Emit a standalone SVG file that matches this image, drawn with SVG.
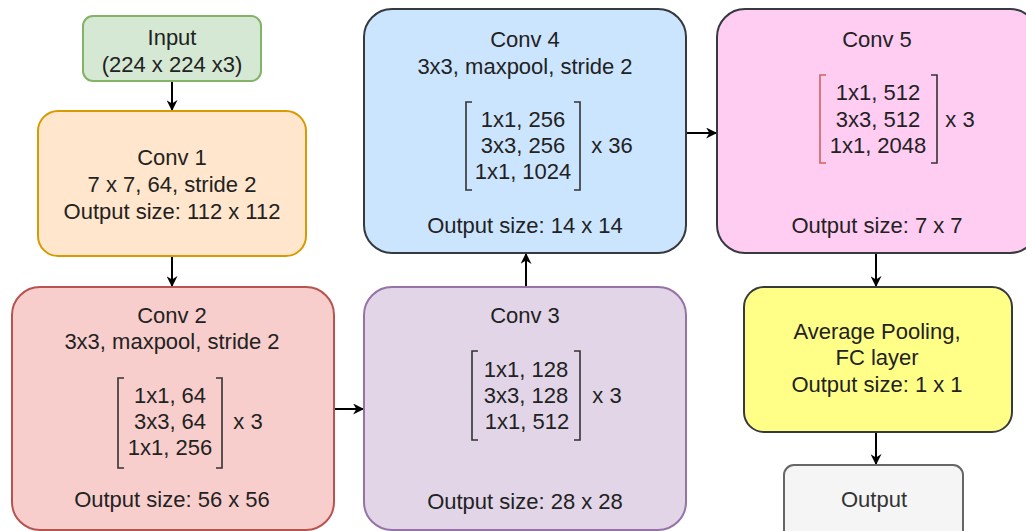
<svg xmlns="http://www.w3.org/2000/svg" width="1026" height="531" viewBox="0 0 1026 531">
<defs>
<style>
text{font-family:"Liberation Sans",Arial,sans-serif;font-size:22px;fill:#222;text-anchor:middle}
.box{stroke-width:2}
.br{fill:none;stroke:#333;stroke-width:1.6}
.conn{fill:none;stroke:#000;stroke-width:2}
</style>
<marker id="arr" viewBox="0 0 10 10" refX="9" refY="5" markerWidth="12" markerHeight="11" orient="auto" markerUnits="userSpaceOnUse">
<path d="M0,0 L10,5 L0,10 L3,5 Z" fill="#000"/>
</marker>
</defs>
<rect width="1026" height="531" fill="#fff"/>
<g id="connectors">
<path class="conn" d="M172,81 V110" marker-end="url(#arr)"/>
<path class="conn" d="M172,256 V286" marker-end="url(#arr)"/>
<path class="conn" d="M334,409 H363" marker-end="url(#arr)"/>
<path class="conn" d="M526,287 V254" marker-end="url(#arr)"/>
<path class="conn" d="M686,133 H716" marker-end="url(#arr)"/>
<path class="conn" d="M876,253 V286" marker-end="url(#arr)"/>
<path class="conn" d="M876,432 V464" marker-end="url(#arr)"/>
</g>
<g id="input">
<rect class="box" x="83" y="16" width="178" height="65" rx="10" fill="#d5e8d4" stroke="#82b366"/>
<text x="172" y="45">Input</text>
<text x="172" y="72">(224 x 224 x3)</text>
</g>
<g id="conv1">
<rect class="box" x="38" y="111" width="268" height="145" rx="20" fill="#ffe6cc" stroke="#d79b00"/>
<text x="172" y="165">Conv 1</text>
<text x="172" y="192">7 x 7, 64, stride 2</text>
<text x="172" y="219">Output size: 112 x 112</text>
</g>
<g id="conv2">
<rect class="box" x="12" y="287" width="322" height="243" rx="28" fill="#f8cecc" stroke="#b85450"/>
<text x="172" y="323">Conv 2</text>
<text x="172" y="349">3x3, maxpool, stride 2</text>
<path class="br" d="M124,378 H118 V468 H124"/>
<path class="br" d="M216,378 H222 V468 H216"/>
<text x="170" y="403">1x1, 64</text>
<text x="170" y="429">3x3, 64</text>
<text x="170" y="455">1x1, 256</text>
<text x="248" y="429">x 3</text>
<text x="172" y="507">Output size: 56 x 56</text>
</g>
<g id="conv3">
<rect class="box" x="364" y="287" width="322" height="243" rx="28" fill="#e1d5e7" stroke="#9673a6"/>
<text x="525" y="323">Conv 3</text>
<path class="br" d="M478,351 H472 V440 H478"/>
<path class="br" d="M574,351 H580 V440 H574"/>
<text x="526" y="377">1x1, 128</text>
<text x="526" y="403">3x3, 128</text>
<text x="527" y="429">1x1, 512</text>
<text x="607" y="403">x 3</text>
<text x="525" y="509">Output size: 28 x 28</text>
</g>
<g id="conv4">
<rect class="box" x="364" y="9" width="322" height="244" rx="28" fill="#cce5ff" stroke="#36393d"/>
<text x="525" y="47">Conv 4</text>
<text x="525" y="74">3x3, maxpool, stride 2</text>
<path class="br" d="M472,102 H466 V190 H472"/>
<path class="br" d="M574,102 H580 V190 H574"/>
<text x="523" y="127">1x1, 256</text>
<text x="523" y="153">3x3, 256</text>
<text x="523" y="179">1x1, 1024</text>
<text x="612" y="153">x 36</text>
<text x="525" y="233">Output size: 14 x 14</text>
</g>
<g id="conv5">
<rect class="box" x="717" y="9" width="321" height="244" rx="28" fill="#ffccf2" stroke="#36393d"/>
<text x="877" y="47">Conv 5</text>
<path d="M826,75 H820 V163 H826" fill="none" stroke="#d06060" stroke-width="1.6"/>
<path class="br" d="M931,75 H937 V163 H931"/>
<text x="878" y="100">1x1, 512</text>
<text x="878" y="127">3x3, 512</text>
<text x="878" y="153">1x1, 2048</text>
<text x="960" y="127">x 3</text>
<text x="877" y="233">Output size: 7 x 7</text>
</g>
<g id="avgpool">
<rect class="box" x="744" y="287" width="268" height="145" rx="20" fill="#ffff88" stroke="#36393d"/>
<text x="877" y="339">Average Pooling,</text>
<text x="877" y="365">FC layer</text>
<text x="877" y="392">Output size: 1 x 1</text>
</g>
<g id="output">
<rect class="box" x="784" y="465" width="179" height="75" rx="10" fill="#f5f5f5" stroke="#666666"/>
<text x="874" y="507" style="fill:#333">Output</text>
</g>
</svg>
